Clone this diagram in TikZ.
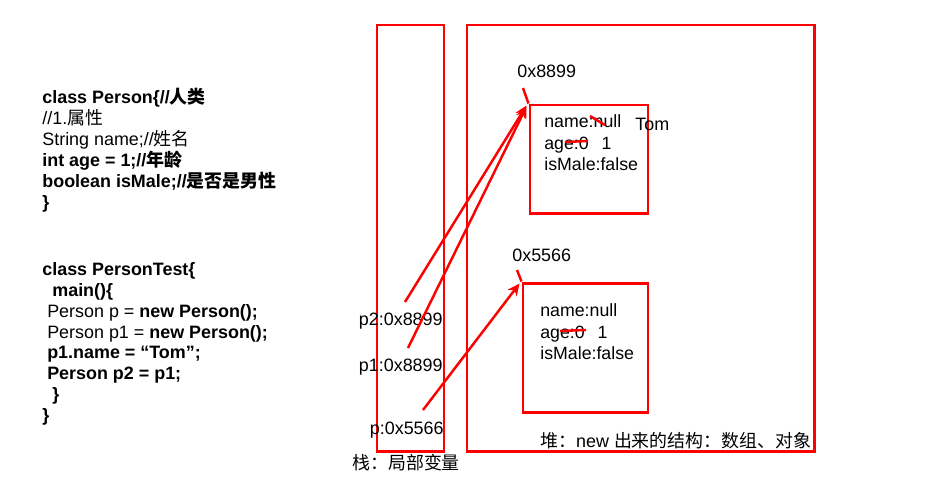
\documentclass[tikz,border=0pt]{standalone}
\usepackage{fontspec}
\setmainfont{Liberation Sans}
\newfontfamily\cjk{Noto Sans CJK SC}
\usetikzlibrary{arrows.meta, positioning, fit, calc}
\tikzset{
  frame/.style={draw=red,line width=1.7pt,inner sep=0pt},
  code/.style={anchor=north west,align=left,inner sep=0pt,
    font=\fontsize{10.2}{11.9}\selectfont},
  field/.style={anchor=north west,align=left,inner sep=0pt,
    font=\fontsize{10.1}{12.4}\selectfont},
  lbl/.style={inner sep=0pt,font=\fontsize{10.2}{12}\selectfont},
  ptr/.style={-{Stealth[length=2.4mm,width=2.2mm]},draw=red,line width=1.4pt},
  strike/.style={draw=red,line width=1.4pt}
}

\begin{document}
\begin{tikzpicture}[x=0.02cm,y=-0.02cm]
\useasboundingbox (0,0) rectangle (927,481);
\node[frame,fit={(377,25) (444,451)}] (stack) {};
\node[frame,fit={(467,25) (814,451)}] (heap) {};
\node[frame,fit={(530,105) (648,213)}] (obj1) {};
\node[frame,fit={(523,283) (648,412)}] (obj2) {};

\node[code] (person) at (42,88) {\textbf{class Person\{//{\cjk 人类}}\\
//1.{\cjk 属性}\\
String name;//{\cjk 姓名}\\
\textbf{int age = 1;//{\cjk 年龄}}\\
\textbf{boolean isMale;//{\cjk 是否是男性}}\\
\textbf{\}}};
\node[code] (test) at (42,262) {\textbf{class PersonTest\{}\\
\hspace*{5.7pt}\textbf{main()\{}\\
\hspace*{2.8pt}Person p = \textbf{new Person();}\\
\hspace*{2.8pt}Person p1 = \textbf{new Person();}\\
\hspace*{2.8pt}\textbf{p1.name = “Tom”;}\\
\hspace*{2.8pt}\textbf{Person p2 = p1;}\\
\hspace*{5.7pt}\textbf{\}}\\
\textbf{\}}};

\node[lbl,anchor=base east] (p2) at (443,325) {p2:0x8899};
\node[lbl,anchor=base east] (p1) at (443,371) {p1:0x8899};
\node[lbl,anchor=base east] (p) at (444,434) {p:0x5566};
\node[lbl,anchor=base west] (stacklbl) at (352,469) {{\cjk 栈：局部变量}};
\node[lbl,anchor=base west] (heaplbl) at (540,447) {{\cjk 堆：}new {\cjk 出来的结构：数组、对象}};

\node[lbl,anchor=base west] (addr1) at (517,77) {0x8899};
\node[lbl,anchor=base west] (addr2) at (512,261) {0x5566};

\node[field] (f1) at (544,114) {name:null\\age:0\hspace{7.4pt}1\\isMale:false};
\node[field] (f2) at (540,303) {name:null\\age:0\hspace{7.4pt}1\\isMale:false};
\node[lbl,anchor=base west] (tom) at (635,130) {Tom};

\draw[strike] (590,116) -- (605,125);
\draw[strike] (565,142) -- (588,141);
\draw[strike] (560,331) -- (586,330);

\coordinate (t1) at (523,88);
\coordinate (t2) at (517,270);
\draw[strike] (t1) -- (obj1.north west);
\draw[strike] (t2) -- (obj2.north west);

\coordinate (p2s) at (405,302);
\coordinate (p1s) at (408,348);
\coordinate (ps) at (423,410);
\draw[ptr] (p2s) -- ($(obj1.north west)+(-2,2)$);
\draw[ptr] (p1s) -- ($(obj1.north west)+(-2,3)$);
\draw[ptr] (ps) -- ($(obj2.north west)+(-2,2)$);
\end{tikzpicture}
\end{document}
